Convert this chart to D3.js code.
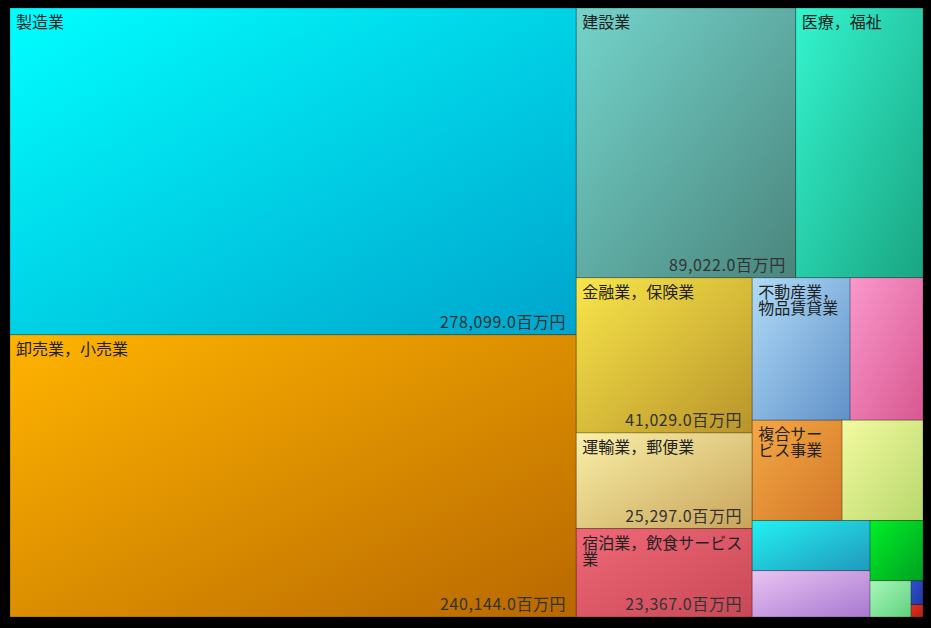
<!DOCTYPE html>
<html>
<head>
<meta charset="utf-8">
<script src="https://cdn.jsdelivr.net/npm/d3@7"></script>
<style>
  html, body { margin: 0; padding: 0; background: #000; }
  svg { display: block; }
  text { font-family: "Noto Sans CJK JP", "Noto Sans", sans-serif; }
</style>
</head>
<body>
<svg id="chart" width="931" height="628"></svg>
<script>
// ---- data ----
const categories = [
  "製造業",
  "卸売業，小売業",
  "建設業",
  "医療，福祉",
  "金融業，保険業",
  "運輸業，郵便業",
  "宿泊業，飲食サービス業",
  "不動産業，物品賃貸業",
  "サービス業（他に分類されないもの）",
  "複合サービス事業",
  "学術研究，専門・技術サービス業",
  "情報通信業",
  "生活関連サービス業，娯楽業",
  "教育，学習支援業",
  "電気・ガス・熱供給・水道業",
  "農業，林業",
  "鉱業，採石業，砂利採取業"
];
const values = [
  278099, 240144, 89022, 51600, 41029, 25297, 23367, 20950,
  15600, 13560, 12200, 8900, 8200, 4800, 2230, 430, 220
];
const unit = "百万円";

// ---- palette (light top-left, dark bottom-right) ----
const colorLight = [
  "#00ffff", "#ffb400", "#74d4cb", "#33f5cf", "#f9e64a", "#faf0a8",
  "#f06878", "#b0dcf8", "#fa98cc", "#f5a845", "#f3faa0", "#22f2f2",
  "#eac4f2", "#00f028", "#a8f8b8", "#3050d0", "#e83020"
];
const colorDark = [
  "#00a4cc", "#b86800", "#4a857d", "#1aa582", "#b8942a", "#c8a45a",
  "#c84856", "#6090c8", "#d85890", "#d27828", "#b8d86c", "#2098bc",
  "#a878d0", "#00a020", "#60d080", "#2038a0", "#b02010"
];

const W = 931, H = 628;
const margin = {left: 10, top: 8, right: 8, bottom: 11};
const iw = W - margin.left - margin.right;
const ih = H - margin.top - margin.bottom;

const svg = d3.select("#chart");
svg.append("rect").attr("width", W).attr("height", H).attr("fill", "#000");

const defs = svg.append("defs");

const root = d3.hierarchy({children: categories.map((c, i) => ({name: c, value: values[i], idx: i}))})
  .sum(d => d.value || 0)
  .sort((a, b) => b.value - a.value);

d3.treemap().tile(d3.treemapSquarify).size([iw, ih]).round(false)(root);

const leaves = root.leaves();

leaves.forEach(d => {
  const gr = defs.append("linearGradient")
    .attr("id", "grad" + d.data.idx)
    .attr("x1", 0).attr("y1", 0).attr("x2", 1).attr("y2", 1);
  gr.append("stop").attr("offset", "0%").attr("stop-color", colorLight[d.data.idx]);
  gr.append("stop").attr("offset", "100%").attr("stop-color", colorDark[d.data.idx]);
});

const g = svg.append("g").attr("transform", `translate(${margin.left},${margin.top})`);

const cell = g.selectAll("g.cell").data(leaves).join("g")
  .attr("class", "cell")
  .attr("transform", d => `translate(${d.x0},${d.y0})`);

cell.append("rect")
  .attr("width", d => d.x1 - d.x0)
  .attr("height", d => d.y1 - d.y0)
  .attr("fill", d => `url(#grad${d.data.idx})`)
  .attr("stroke", "rgba(0,0,0,0.22)")
  .attr("stroke-width", 1);

const fmt = d3.format(",.1f");
const fontSize = 16, lineH = 16, padX = 6;

cell.each(function(d) {
  const w = d.x1 - d.x0, h = d.y1 - d.y0;
  const sel = d3.select(this);
  if (w >= 85 && h >= 85) {
    const t = sel.append("text")
      .attr("x", padX).attr("y", 20)
      .attr("font-size", fontSize)
      .attr("fill", "#222");
    const avail = w - 2 * padX;
    const probe = t.append("tspan");
    const lines = [];
    let cur = "";
    for (const ch of d.data.name) {
      probe.text(cur + ch);
      if (probe.node().getComputedTextLength() > avail && cur.length) {
        lines.push(cur);
        cur = ch;
      } else {
        cur += ch;
      }
    }
    if (cur) lines.push(cur);
    probe.remove();
    lines.forEach((ln, i) => {
      t.append("tspan").attr("x", padX).attr("dy", i === 0 ? 0 : lineH).text(ln);
    });

    const v = sel.append("text")
      .attr("x", w - 10).attr("y", h - 7)
      .attr("text-anchor", "end")
      .attr("font-size", fontSize)
      .attr("letter-spacing", "0.6px")
      .attr("fill", "#333")
      .text(fmt(d.data.value) + unit);
    if (v.node().getComputedTextLength() + 16 > w) v.remove();
  }
});
</script>
</body>
</html>
